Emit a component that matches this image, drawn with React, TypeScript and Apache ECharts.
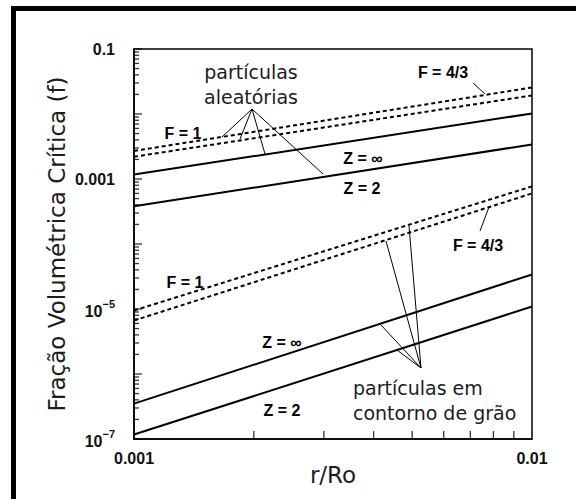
import React, { useEffect, useRef } from "react";
import * as echarts from "echarts";

// r/Ro range (x axis, log)
const rRange = [0.001, 0.01];
const xTickLabels: Record<string, string> = { "-3": "0.001", "-2": "0.01" };
// critical volume fraction f range (y axis, log)
const fRange = [1e-7, 0.1];
const yTickLabels: Record<string, string> = {
  "-1": "{n|0.1}",
  "-3": "{n|0.001}",
  "-5": "{b|10}{s|−5}",
  "-7": "{b|10}{s|−7}",
};

// f at r/Ro = 0.001 and 0.01
// random particles (partículas aleatórias)
const randomF43 = [2.7e-3, 2.56e-2];
const randomF1 = [2.2e-3, 1.93e-2];
const randomZinf = [1.17e-3, 1.02e-2];
const randomZ2 = [3.8e-4, 3.4e-3];
// grain boundary particles (partículas em contorno de grão)
const gbF43 = [9.5e-6, 7.7e-4];
const gbF1 = [6.65e-6, 6.0e-4];
const gbZinf = [3.5e-7, 3.4e-5];
const gbZ2 = [1.17e-7, 1.09e-5];

// log-axis tick structure
const yDecades = [1e-7, 1e-6, 1e-5, 1e-4, 1e-3, 1e-2, 1e-1];
const mantissas = [2, 3, 4, 5, 6, 7, 8, 9];

const TXT = "#1c1c1c";

function lineSeries(values: number[], dashed: boolean) {
  return {
    type: "line",
    data: [
      [rRange[0], values[0]],
      [rRange[1], values[1]],
    ],
    symbol: "none",
    showSymbol: false,
    silent: true,
    lineStyle: { color: "#000", width: 2, type: dashed ? [4, 3] : "solid" },
    z: 4,
  };
}

function tickSeries(data: number[][], size: number[], offset: number[]) {
  return {
    type: "scatter",
    data,
    symbol: "rect",
    symbolSize: size,
    symbolOffset: offset,
    itemStyle: { color: "#000" },
    silent: true,
    clip: false,
    z: 5,
  };
}

function seg(x1: number, y1: number, x2: number, y2: number) {
  return {
    type: "line",
    shape: { x1, y1, x2, y2 },
    style: { stroke: "#000", lineWidth: 1 },
    silent: true,
  };
}

function bold(text: string, x: number, y: number) {
  return {
    type: "text",
    x,
    y,
    style: {
      text,
      fontFamily: "Liberation Sans",
      fontWeight: "bold",
      fontSize: 16,
      fill: "#000",
      align: "center",
      verticalAlign: "middle",
    },
    silent: true,
  };
}

function note(text: string, x: number, y: number, align: string) {
  return {
    type: "text",
    x,
    y,
    style: {
      text,
      fontFamily: "DejaVu Sans",
      fontSize: 19,
      lineHeight: 25,
      fill: TXT,
      align,
      verticalAlign: "middle",
    },
    silent: true,
  };
}

const tickFont = {
  fontFamily: "Liberation Sans",
  fontWeight: "bold",
  color: "#111",
};

export default function App() {
  const ref = useRef<HTMLDivElement>(null);
  useEffect(() => {
    if (!ref.current) return;
    const chart = echarts.init(ref.current, undefined, { renderer: "svg" });

    const yMinor: number[][] = [];
    yDecades.slice(0, -1).forEach((d) =>
      mantissas.forEach((m) => yMinor.push([rRange[0], d * m]))
    );
    const xMinor = mantissas.map((m) => [rRange[0] * m, fRange[0]]);

    const option: any = {
      animation: false,
      backgroundColor: "#fff",
      grid: {
        left: 134,
        top: 49,
        right: 44,
        bottom: 60,
        show: true,
        borderColor: "#000",
        borderWidth: 1.5,
        outerBoundsMode: "none",
      },
      xAxis: {
        type: "log",
        logBase: 10,
        min: rRange[0],
        max: rRange[1],
        axisLine: { show: true, lineStyle: { color: "#000", width: 1.5 } },
        axisTick: { show: false },
        splitLine: { show: false },
        minorTick: { show: false },
        axisLabel: {
          interval: 0,
          showMinLabel: true,
          showMaxLabel: true,
          margin: 11,
          fontSize: 16,
          ...tickFont,
          formatter: (v: number) => xTickLabels[String(Math.round(Math.log10(v)))] || "",
        },
        name: "r/Ro",
        nameLocation: "middle",
        nameGap: 24,
        nameMoveOverlap: false,
        nameTextStyle: { fontFamily: "DejaVu Sans", fontSize: 23, color: TXT },
      },
      yAxis: {
        type: "log",
        logBase: 10,
        min: fRange[0],
        max: fRange[1],
        axisLine: { show: true, lineStyle: { color: "#000", width: 1.5 } },
        axisTick: { show: false },
        splitLine: { show: false },
        minorTick: { show: false },
        axisLabel: {
          interval: 0,
          showMinLabel: true,
          showMaxLabel: true,
          margin: 19,
          fontSize: 16,
          ...tickFont,
          formatter: (v: number) => yTickLabels[String(Math.round(Math.log10(v)))] || "",
          rich: {
            n: { ...tickFont, fontSize: 16, lineHeight: 18 },
            b: { ...tickFont, fontSize: 16, lineHeight: 21, verticalAlign: "bottom" },
            s: { ...tickFont, fontSize: 11, lineHeight: 12, verticalAlign: "top" },
          },
        },
        name: "Fração Volumétrica Crítica (f)",
        nameLocation: "middle",
        nameRotate: 90,
        nameGap: 66,
        nameMoveOverlap: false,
        nameTextStyle: { fontFamily: "DejaVu Sans", fontSize: 23, color: TXT },
      },
      series: [
        lineSeries(randomF43, true),
        lineSeries(randomF1, true),
        lineSeries(randomZinf, false),
        lineSeries(randomZ2, false),
        lineSeries(gbF43, true),
        lineSeries(gbF1, true),
        lineSeries(gbZinf, false),
        lineSeries(gbZ2, false),
        tickSeries(yDecades.map((d) => [rRange[0], d]), [8, 1.3], [4, 0]),
        tickSeries(yMinor, [5, 1.3], [2.5, 0]),
        tickSeries(xMinor, [1.3, 8], [0, -4]),
      ],
      graphic: [
        { type: "rect", shape: { x: 11, y: 6, width: 5, height: 493 }, style: { fill: "#000" }, silent: true },
        { type: "rect", shape: { x: 11, y: 6, width: 565, height: 5 }, style: { fill: "#000" }, silent: true },
        // random particles leaders
        seg(252, 109, 222, 137),
        seg(252, 109, 240, 139),
        seg(252, 109, 265, 154),
        seg(252, 109, 323, 174),
        seg(473, 83, 485, 94),
        // grain boundary leaders
        seg(421, 368, 409, 226),
        seg(421, 368, 386, 241),
        seg(421, 368, 381, 325),
        seg(421, 368, 397, 350),
        seg(480, 231, 489, 207),
        // labels
        note("partículas\naleatórias", 251, 84, "center"),
        note("partículas em\ncontorno de grão", 353, 400, "left"),
        bold("F = 1", 183, 133),
        bold("F = 4/3", 443, 72),
        bold("Z = ∞", 363, 158),
        bold("Z = 2", 362, 188),
        bold("F = 1", 185, 282),
        bold("Z = ∞", 282, 342),
        bold("Z = 2", 282, 410),
        bold("F = 4/3", 478, 245),
      ],
    };
    chart.setOption(option);
    return () => chart.dispose();
  }, []);
  return (
    <div
      ref={ref}
      style={{ position: "absolute", left: 0, top: 0, width: 576, height: 499 }}
    />
  );
}
